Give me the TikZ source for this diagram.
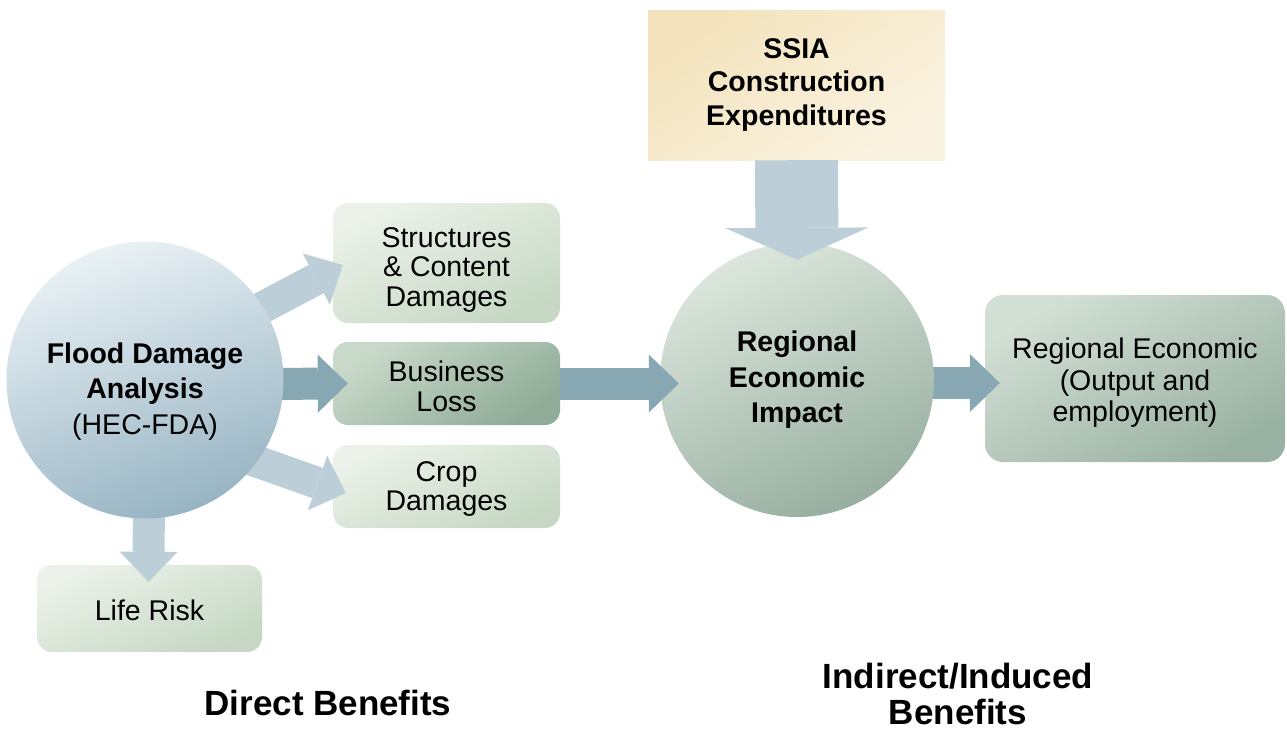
\documentclass[tikz,border=0pt]{standalone}
\usepackage{fontspec}
\setmainfont{Liberation Sans}
\usetikzlibrary{arrows.meta,calc,backgrounds}
\definecolor{arrLight}{HTML}{BCCFD8}
\definecolor{arrDark}{HTML}{87A7B2}
\definecolor{boxTop}{HTML}{ECF2E9}
\definecolor{boxBot}{HTML}{C6D8C4}
\definecolor{busTop}{HTML}{C9D9C9}
\definecolor{busBot}{HTML}{90AC98}
\definecolor{outTop}{HTML}{D2DFD4}
\definecolor{outBot}{HTML}{9AB2A3}
\definecolor{floodTop}{HTML}{E9F1F5}
\definecolor{floodBot}{HTML}{98B4C3}
\definecolor{regTop}{HTML}{DCE6DD}
\definecolor{regBot}{HTML}{97AFA0}
\definecolor{ssiaTop}{HTML}{F3E3BC}
\definecolor{ssiaBot}{HTML}{FBF3E2}
\newcommand\tstrut[1]{\rule{0pt}{#1}}
\begin{document}
\begin{tikzpicture}[x=1pt,y=-1pt,
  txt/.style={align=center, inner sep=0pt, font=\fontsize{28.5}{29.5}\selectfont},
  boldtxt/.style={align=center, inner sep=0pt, font=\fontsize{28.5}{35.5}\selectfont\bfseries},
  lightbox/.style={txt, rounded corners=15pt, minimum width=227pt,
     top color=boxTop, bottom color=boxBot, shading angle=25},
  darkbox/.style={txt, rounded corners=15pt, minimum width=227pt,
     top color=busTop, bottom color=busBot, shading angle=35},
  bigcircle/.style={circle, inner sep=0pt, minimum size=277pt},
  lightarrow/.style={draw=arrLight, line width=32pt,
     -{Triangle[length=30pt,width=58pt,line width=0pt]}},
  darkarrow/.style={draw=arrDark, line width=32pt,
     -{Triangle[length=30pt,width=58pt,line width=0pt]}},
  widearrow/.style={draw=arrLight, line width=83pt,
     -{Triangle[length=32pt,width=143pt,line width=0pt]}},
  heading/.style={align=center, inner sep=0pt, font=\fontsize{35}{36}\selectfont\bfseries}
]
\useasboundingbox (0,0) rectangle (1287,731);

% circles (main layer)
\node[bigcircle, top color=floodTop, bottom color=floodBot, shading angle=20,
      font=\fontsize{28.5}{35.5}\selectfont, align=center] (flood) at (145,380)
  {\tstrut{43pt}\textbf{Flood Damage}\\\textbf{Analysis}\\(HEC-FDA)};
\node[bigcircle, boldtxt, minimum size=274pt, top color=regTop, bottom color=regBot,
      shading angle=25] (regional) at (797,380)
  {Regional\\Economic\\Impact};

\begin{scope}[on background layer]
  \node[lightbox, minimum height=120pt] (structures) at (446.5,263)
    {\tstrut{33pt}Structures\\\& Content\\Damages};
  \node[darkbox, minimum height=83pt] (business) at (446.5,383.5)
    {\tstrut{26pt}Business\\Loss};
  \node[lightbox, minimum height=83pt] (crop) at (446.5,486.5)
    {\tstrut{25pt}Crop\\Damages};
  \node[lightbox, minimum width=225pt, minimum height=87pt] (life) at (149.5,608.5)
    {\tstrut{25pt}Life Risk};
  \node[txt, font=\fontsize{28.5}{31.5}\selectfont, rounded corners=18pt,
        minimum width=300pt, minimum height=167pt,
        top color=outTop, bottom color=outBot, shading angle=30] (output) at (1135,378.5)
    {\tstrut{29pt}Regional Economic\\(Output and\\employment)};
  % arrows leaving the circles, drawn behind the circles
  \draw[lightarrow] ($(flood.center)+(92,-59)$) -- ($(structures.west)+(10,2)$);
  \draw[darkarrow] ($(flood.center)+(110,4)$) -- ($(business.west)+(15,0)$);
  \draw[lightarrow] ($(flood.center)+(85,72)$) -- ($(crop.west)+(13,6.5)$);
  \draw[lightarrow] ($(flood.center)+(4,100)$) -- ($(life.north)+(-1,17)$);
  \draw[darkarrow] ($(regional.center)+(110,3)$) -- ($(regional.center -| output.west)+(15,3)$);
\end{scope}

\node[boldtxt, font=\fontsize{28.5}{33.5}\selectfont\bfseries, minimum width=297pt,
      minimum height=150pt, top color=ssiaTop, bottom color=ssiaBot, shading angle=35]
  (ssia) at (796.5,85) {SSIA\\Construction\\Expenditures};

% arrows entering the regional circle, drawn on top
\draw[widearrow] (ssia.south) -- ($(regional.north)+(0,17)$);
\draw[darkarrow] (business.east) -- ($(business.east -| regional.west)+(19,0)$);

\node[heading] (direct) at (328,703) {Direct Benefits};
\node[heading] (indirect) at (958,694) {Indirect/Induced\\Benefits};
\end{tikzpicture}
\end{document}
